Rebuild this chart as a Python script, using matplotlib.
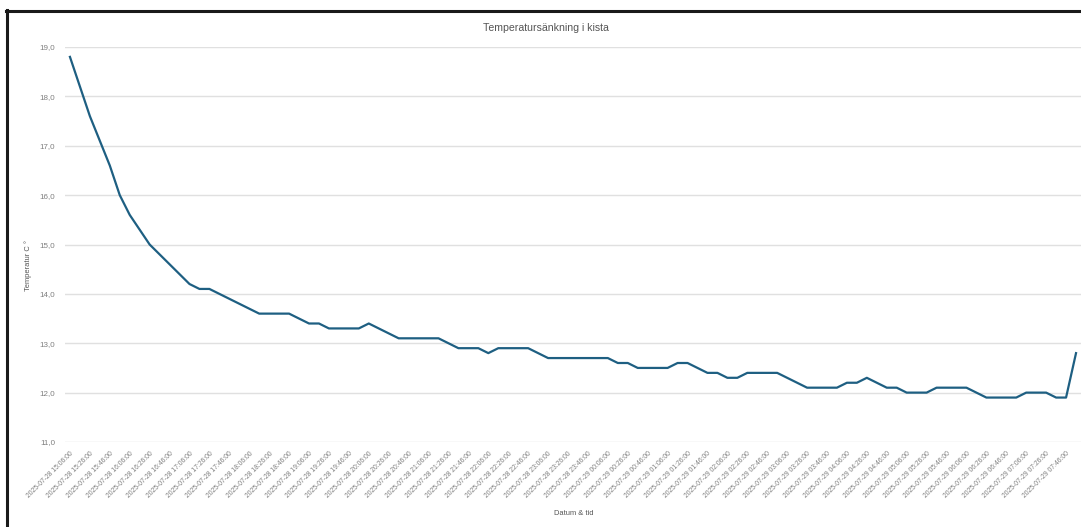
#!/usr/bin/env python3

import matplotlib

matplotlib.use("Agg")
import matplotlib.pyplot as plt
from matplotlib.lines import Line2D
import pandas as pd

# temperature readings, one every 10 minutes
start_time = "2025-07-28 15:06:00"
temperatures = [
    18.8, 18.2, 17.6, 17.1, 16.6, 16.0, 15.6, 15.3, 15.0, 14.8,
    14.6, 14.4, 14.2, 14.1, 14.1, 14.0, 13.9, 13.8, 13.7, 13.6,
    13.6, 13.6, 13.6, 13.5, 13.4, 13.4, 13.3, 13.3, 13.3, 13.3,
    13.4, 13.3, 13.2, 13.1, 13.1, 13.1, 13.1, 13.1, 13.0, 12.9,
    12.9, 12.9, 12.8, 12.9, 12.9, 12.9, 12.9, 12.8, 12.7, 12.7,
    12.7, 12.7, 12.7, 12.7, 12.7, 12.6, 12.6, 12.5, 12.5, 12.5,
    12.5, 12.6, 12.6, 12.5, 12.4, 12.4, 12.3, 12.3, 12.4, 12.4,
    12.4, 12.4, 12.3, 12.2, 12.1, 12.1, 12.1, 12.1, 12.2, 12.2,
    12.3, 12.2, 12.1, 12.1, 12.0, 12.0, 12.0, 12.1, 12.1, 12.1,
    12.1, 12.0, 11.9, 11.9, 11.9, 11.9, 12.0, 12.0, 12.0, 11.9,
    11.9, 12.8,
]
y_ticks = [11.0, 12.0, 13.0, 14.0, 15.0, 16.0, 17.0, 18.0, 19.0]

title = "Temperatursänkning i kista"
x_label = "Datum & tid"
y_label = "Temperatur C °"


def main():
    plt.rcParams["font.family"] = ["Liberation Sans", "DejaVu Sans"]

    times = pd.date_range(start_time, periods=len(temperatures), freq="10min")
    labels = [t.strftime("%Y-%m-%d %H:%M:%S") for t in times]
    xs = list(range(len(temperatures)))

    fig = plt.figure(figsize=(10.81, 5.27), dpi=100)
    ax = fig.add_axes([0.0601, 0.1613, 0.9399, 0.7495])

    ax.plot(xs, temperatures, "-", color="#1e5f82", linewidth=1.6,
            solid_joinstyle="round", zorder=3)

    ax.set_xlim(-0.5, len(temperatures) - 0.5)
    ax.set_ylim(11.0, 19.0)
    ax.set_yticks(y_ticks)
    ax.set_yticklabels([("%.1f" % v).replace(".", ",") for v in y_ticks])
    ax.set_xticks(xs[::2])
    ax.set_xticklabels(labels[::2], rotation=45, ha="right",
                       rotation_mode="anchor")

    ax.grid(axis="y", color="#e0e0e0", linewidth=1.0)
    ax.set_axisbelow(True)
    for s in ax.spines.values():
        s.set_visible(False)
    ax.tick_params(axis="both", length=0, colors="#7f7f7f")
    ax.tick_params(axis="y", labelsize=5.8, pad=7)
    ax.tick_params(axis="x", labelsize=4.9, pad=6)

    fig.text(0.505, 0.947, title, ha="center", va="center",
             fontsize=7.6, color="#555555")
    fig.text(0.5305, 0.026, x_label, ha="center", va="center",
             fontsize=5.4, color="#555555")
    fig.text(0.026, 0.497, y_label, ha="center", va="center",
             rotation=90, fontsize=5.4, color="#555555")

    # screenshot frame
    fig.add_artist(Line2D([6 / 1081, 1.0], [1 - 10.5 / 527, 1 - 10.5 / 527],
                          color="#1a1a1a", linewidth=2.2,
                          transform=fig.transFigure))
    fig.add_artist(Line2D([7 / 1081, 7 / 1081], [0.0, 1 - 10 / 527],
                          color="#1a1a1a", linewidth=2.2,
                          transform=fig.transFigure))

    fig.savefig("out.png", dpi=100)


if __name__ == "__main__":
    main()
